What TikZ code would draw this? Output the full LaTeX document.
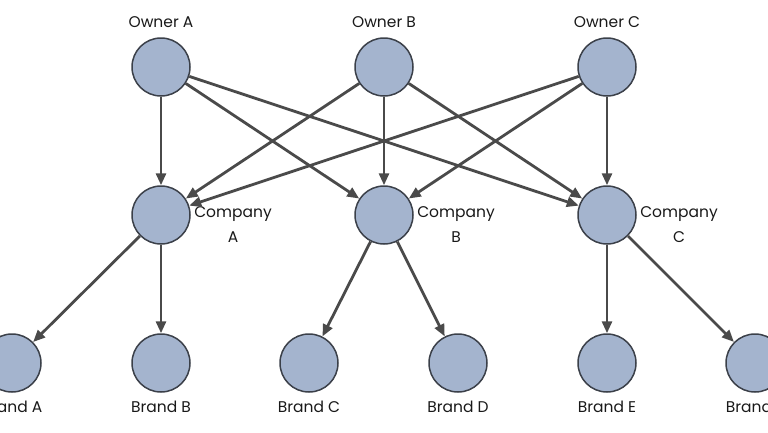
\documentclass[tikz,border=0pt]{standalone}
\usepackage{fontspec}
\setmainfont{Poppins}
\usetikzlibrary{arrows.meta}
\definecolor{nodefill}{HTML}{A4B4CE}
\definecolor{nodeline}{HTML}{3B4049}
\definecolor{edgecol}{HTML}{4A4A4A}
\begin{document}
\begin{tikzpicture}[x=1pt,y=-1pt,
  entity/.style={circle, draw=nodeline, fill=nodefill, line width=1.5pt, minimum size=58pt, inner sep=0pt},
  tag/.style={font=\fontsize{15.5}{25}\selectfont, text=black!90, align=center, inner sep=0pt},
  link/.style={-{Triangle[length=12pt,width=10pt]}, draw=edgecol, line width=2.8pt}]
\useasboundingbox (0,0) rectangle (768,432);

% owners
\node[entity] (ownerA) at (161,67) {};
\node[entity] (ownerB) at (384,67) {};
\node[entity] (ownerC) at (607,67) {};
\node[tag] (ownerAtxt) at (161,22) {Owner A};
\node[tag] (ownerBtxt) at (384,22) {Owner B};
\node[tag] (ownerCtxt) at (607,22) {Owner C};

% companies
\node[tag] (compAtxt) at (233,225) {Company\\A};
\node[tag] (compBtxt) at (456,225) {Company\\B};
\node[tag] (compCtxt) at (679,225) {Company\\C};
\node[entity] (compA) at (161,215) {};
\node[entity] (compB) at (384,215) {};
\node[entity] (compC) at (607,215) {};

% brands
\node[entity] (brandA) at (12,363) {};
\node[entity] (brandB) at (161,363) {};
\node[entity] (brandC) at (309,363) {};
\node[entity] (brandD) at (458,363) {};
\node[entity] (brandE) at (607,363) {};
\node[entity] (brandF) at (755,363) {};
\node[tag] (brandAtxt) at (12,407) {Brand A};
\node[tag] (brandBtxt) at (161,407) {Brand B};
\node[tag] (brandCtxt) at (309,407) {Brand C};
\node[tag] (brandDtxt) at (458,407) {Brand D};
\node[tag] (brandEtxt) at (607,407) {Brand E};
\node[tag] (brandFtxt) at (755,407) {Brand F};

\draw[link] (ownerA) -- (compA);
\draw[link] (ownerA) -- (compB);
\draw[link] (ownerA) -- (compC);
\draw[link] (ownerB) -- (compA);
\draw[link] (ownerB) -- (compB);
\draw[link] (ownerB) -- (compC);
\draw[link] (ownerC) -- (compA);
\draw[link] (ownerC) -- (compB);
\draw[link] (ownerC) -- (compC);

\draw[link] (compA) -- (brandA);
\draw[link] (compA) -- (brandB);
\draw[link] (compB) -- (brandC);
\draw[link] (compB) -- (brandD);
\draw[link] (compC) -- (brandE);
\draw[link] (compC) -- (brandF);
\end{tikzpicture}
\end{document}
